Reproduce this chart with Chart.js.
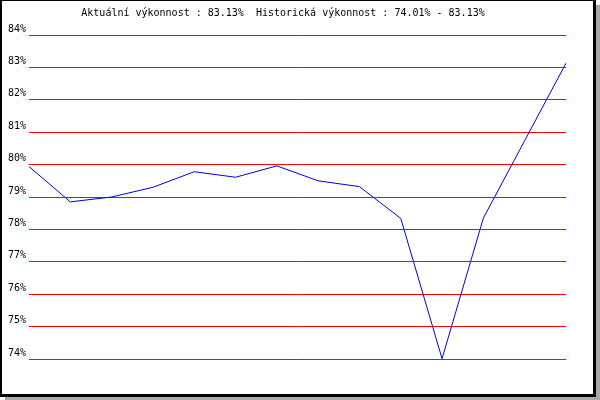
<!DOCTYPE html>
<html>
<head>
<meta charset="utf-8">
<script src="https://cdn.jsdelivr.net/npm/chart.js@4"></script>
<style>
  html, body { margin: 0; padding: 0; background: #fff; }
  #wrap { width: 600px; height: 400px; }
</style>
</head>
<body>
<div id="wrap"><canvas id="perfChart" width="600" height="400"></canvas></div>
<script>
// Data
const categories = ['1', '2', '3', '4', '5', '6', '7', '8', '9', '10', '11', '12', '13', '14'];
const performance = [79.94, 78.85, 79.00, 79.30, 79.78, 79.61, 79.96, 79.50, 79.32, 78.34, 74.01, 78.35, 80.74, 83.13];
const yTicks = [74, 75, 76, 77, 78, 79, 80, 81, 82, 83, 84];
const titleText = 'Aktuální výkonnost : 83.13%  Historická výkonnost : 74.01% - 83.13%';

const MONO = '"DejaVu Sans Mono", "Liberation Mono", monospace';

// Frame with black border and grey drop shadow, plus the heading line
const framePlugin = {
  id: 'frame',
  beforeDraw(chart) {
    const ctx = chart.ctx;
    ctx.save();
    ctx.fillStyle = '#ffffff';
    ctx.fillRect(0, 0, 600, 400);
    ctx.fillStyle = '#a8a8a8';
    ctx.fillRect(5, 5, 595, 395);
    ctx.fillStyle = '#000000';
    ctx.fillRect(0, 0, 596, 397);
    ctx.fillStyle = '#ffffff';
    ctx.fillRect(2, 1, 591, 393);
    ctx.restore();
  },
  afterDraw(chart) {
    const ctx = chart.ctx;
    ctx.save();
    ctx.fillStyle = '#000000';
    ctx.font = '10px ' + MONO;
    ctx.textAlign = 'center';
    ctx.textBaseline = 'middle';
    ctx.fillText(titleText, 283, 13);
    ctx.restore();
  }
};

new Chart(document.getElementById('perfChart'), {
  type: 'line',
  data: {
    labels: categories,
    datasets: [{
      data: performance,
      borderColor: '#0000dd',
      borderWidth: 1,
      pointRadius: 0,
      tension: 0,
      fill: false
    }]
  },
  options: {
    responsive: false,
    animation: false,
    layout: { padding: { left: 0, top: 35, right: 34, bottom: 41 } },
    plugins: {
      legend: { display: false },
      title: { display: false },
      tooltip: { enabled: false }
    },
    scales: {
      x: {
        display: false,
        offset: false
      },
      y: {
        min: 74,
        max: 84,
        afterBuildTicks: (scale) => {
          scale.ticks = yTicks.map(v => ({ value: v }));
        },
        afterFit: (scale) => { scale.width = 29; },
        border: { display: false },
        grid: { color: '#ff0000', lineWidth: 1, drawTicks: false },
        ticks: {
          color: '#000000',
          font: { family: MONO, size: 10 },
          padding: 3,
          labelOffset: -6,
          callback: v => v + '%'
        }
      }
    }
  },
  plugins: [framePlugin]
});
</script>
</body>
</html>
